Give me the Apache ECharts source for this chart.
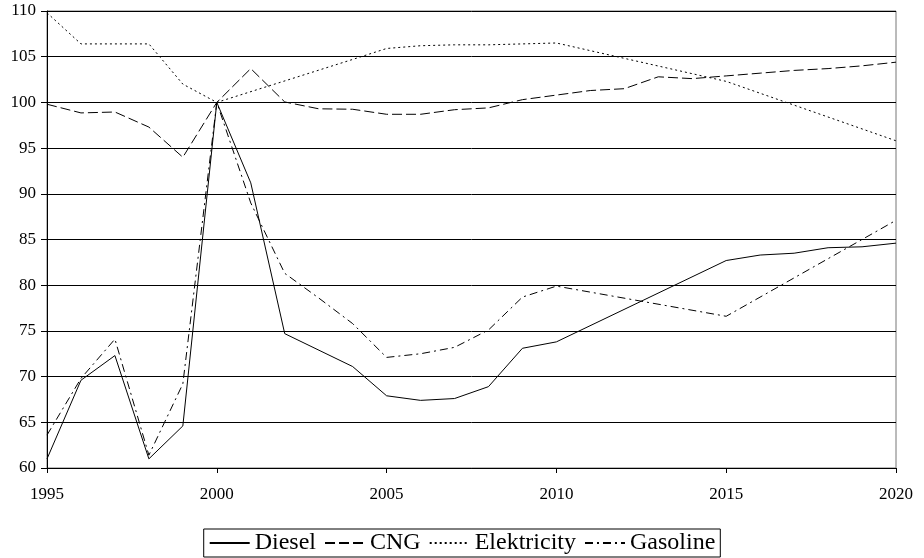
<!DOCTYPE html>
<html>
<head>
<meta charset="utf-8">
<script src="https://cdn.jsdelivr.net/npm/echarts@6/dist/echarts.min.js"></script>
<style>
  html, body { margin: 0; padding: 0; background: #fff; }
  #chart { width: 924px; height: 558px; }
</style>
</head>
<body>
<div id="chart"></div>
<script>
// Years on the horizontal axis
var years = ['1995','1996','1997','1998','1999','2000','2001','2002','2003','2004',
             '2005','2006','2007','2008','2009','2010','2011','2012','2013','2014',
             '2015','2016','2017','2018','2019','2020'];

// Index values (2000 = 100); null where a series has no yearly point
var diesel = [61.0, 69.6, 72.3, 61.0, 64.6, 100, 91.2, 74.7, null, 71.1,
              67.9, 67.4, 67.6, 68.9, 73.1, 73.8, null, null, null, null,
              82.7, 83.3, 83.5, 84.1, 84.2, 84.6];
var cng = [99.8, 98.85, 98.95, 97.3, 94.0, 100, 103.7, 100.05, 99.3, 99.25,
           98.7, 98.7, 99.2, 99.4, 100.3, 100.8, 101.3, 101.5, 102.8, 102.6,
           102.9, 103.2, 103.5, 103.7, 104.0, 104.4];
var elektricity = [109.8, 106.4, 106.4, 106.4, 102.0, 100, null, null, null, 104.7,
                   105.9, 106.2, 106.3, 106.3, 106.4, 106.5, null, null, null, null,
                   102.3, null, null, null, null, 95.8];
var gasoline = [63.6, 69.8, 74.1, 61.4, 69.2, 100, 89.0, 81.3, 78.6, 75.8,
                72.1, 72.5, 73.2, 75.1, 78.7, 79.9, null, null, null, null,
                76.6, null, null, null, null, 87.1];

// Y axis range and step
var yMin = 60, yMax = 110, yStep = 5;

var FONT = '"Liberation Serif", "Times New Roman", serif';

function lineSeries(name, data, dash) {
  return {
    name: name,
    type: 'line',
    data: data,
    connectNulls: true,
    symbol: 'none',
    showSymbol: false,
    animation: false,
    lineStyle: { color: '#000', width: 1, type: dash },
    itemStyle: { color: '#000' },
    emphasis: { disabled: true }
  };
}

var chart = echarts.init(document.getElementById('chart'), null, { renderer: 'canvas' });
chart.setOption({
  animation: false,
  backgroundColor: '#fff',
  grid: {
    left: 47, right: 28, top: 11, bottom: 90,
    show: true, borderColor: '#777', borderWidth: 1, backgroundColor: 'transparent'
  },
  xAxis: {
    type: 'category',
    data: years,
    boundaryGap: false,
    axisLine: { lineStyle: { color: '#000', width: 1 } },
    axisTick: { show: true, interval: 4, length: 5, lineStyle: { color: '#000' } },
    axisLabel: { interval: 4, color: '#000', fontFamily: FONT, fontSize: 17, margin: 18 },
    splitLine: { show: false }
  },
  yAxis: {
    type: 'value',
    min: yMin, max: yMax, interval: yStep,
    axisLine: { show: true, lineStyle: { color: '#000', width: 1 } },
    axisTick: { show: true, length: 6, lineStyle: { color: '#000' } },
    axisLabel: { color: '#000', fontFamily: FONT, fontSize: 17, margin: 11 },
    splitLine: { show: true, lineStyle: { color: '#000', width: 1 } }
  },
  legend: {
    show: true,
    bottom: 1,
    left: 'center',
    orient: 'horizontal',
    data: ['Diesel', 'CNG', 'Elektricity', 'Gasoline'],
    itemWidth: 40,
    itemHeight: 14,
    itemGap: 8,
    padding: [2, 5, 2, 5],
    borderColor: '#000',
    borderWidth: 1,
    itemStyle: { color: 'transparent', borderWidth: 0, opacity: 0 },
    textStyle: { color: '#000', fontFamily: FONT, fontSize: 24 }
  },
  series: [
    lineSeries('Diesel', diesel, 'solid'),
    lineSeries('CNG', cng, [10, 4]),
    lineSeries('Elektricity', elektricity, [2, 3]),
    lineSeries('Gasoline', gasoline, [8, 4, 2, 4])
  ]
});
</script>
</body>
</html>
